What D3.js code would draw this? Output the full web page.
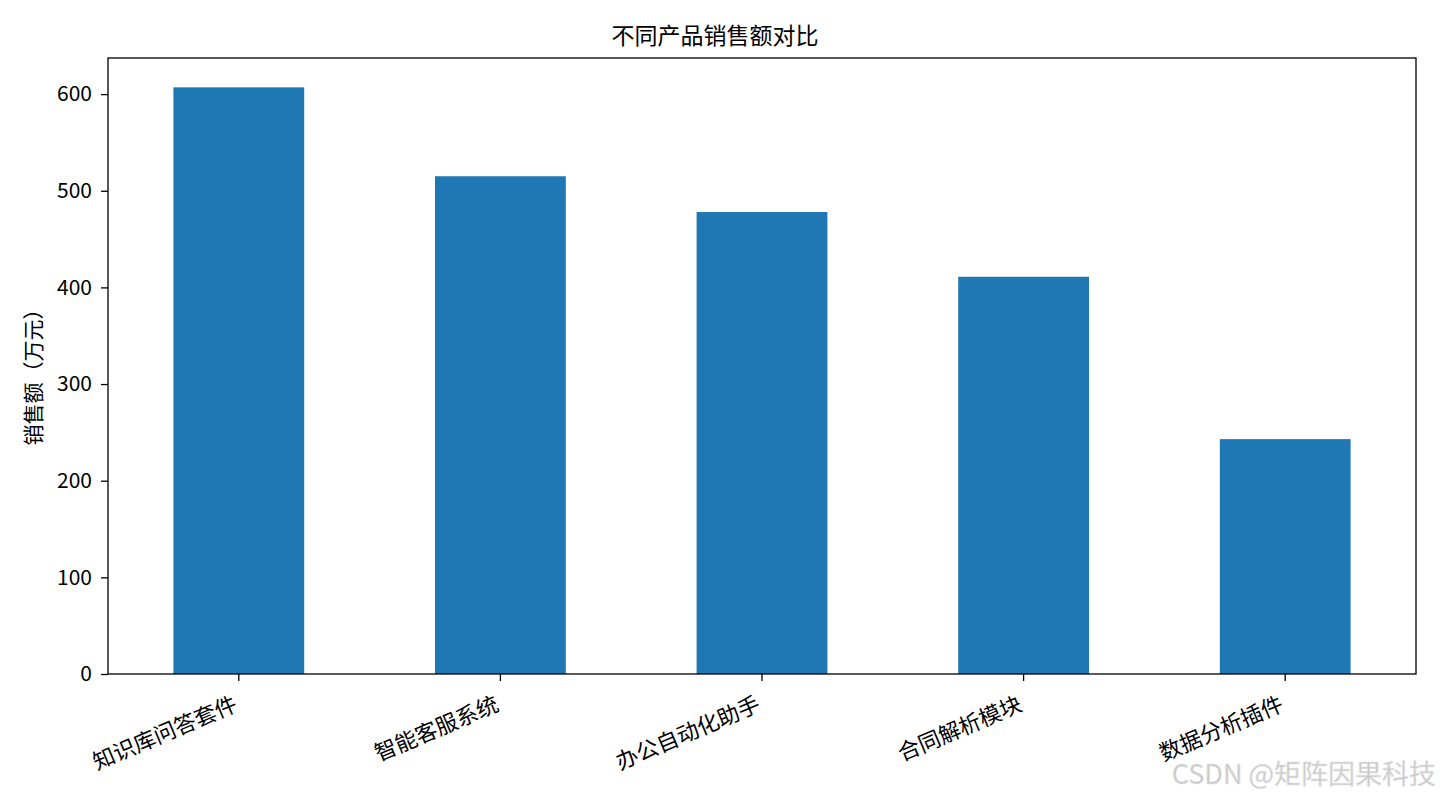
<!DOCTYPE html>
<html>
<head>
<meta charset="utf-8">
<script src="https://cdn.jsdelivr.net/npm/d3@7"></script>
<style>
	body { margin: 0; background: #fff; }
	text { font-family: "Noto Sans CJK SC", "DejaVu Sans", sans-serif; fill: #000; }
</style>
</head>
<body>
<svg id="chart" width="1440" height="800"></svg>
<script>
var products = ["知识库问答套件", "智能客服系统", "办公自动化助手", "合同解析模块", "数据分析插件"],
	sales = [607, 515, 478, 411, 243],
	yTicks = [0, 100, 200, 300, 400, 500, 600];

var svg = d3.select("#chart"),
	plotL = 108, plotR = 1416, plotT = 58, plotB = 674;

var x = d3.scaleBand()
	.domain(products)
	.range([plotL, plotR])
	.paddingInner(0.5)
	.paddingOuter(0.25);

var y = d3.scaleLinear()
	.domain([0, d3.max(sales) * 1.05])
	.range([plotB, plotT]);

// bars
svg.append("g").selectAll("rect")
	.data(products)
	.enter()
	.append("rect")
	.attr("x", function(d) { return x(d); })
	.attr("y", function(d, i) { return y(sales[i]); })
	.attr("width", x.bandwidth())
	.attr("height", function(d, i) { return plotB - y(sales[i]); })
	.attr("fill", "#1f77b4");

// y axis
var yAxis = svg.append("g")
	.attr("transform", "translate(" + plotL + ",0)")
	.call(d3.axisLeft(y).tickValues(yTicks).tickSize(7).tickPadding(9));
yAxis.selectAll("text").style("font-size", "21px");

// x axis
var xAxis = svg.append("g")
	.attr("transform", "translate(0," + plotB + ")")
	.call(d3.axisBottom(x).tickSize(7).tickPadding(8));
xAxis.selectAll("text")
	.style("font-size", "22px")
	.attr("text-anchor", "end")
	.attr("dy", "0.7em")
	.attr("transform", "translate(-12,8) rotate(-23)");

svg.selectAll(".domain").remove();
svg.selectAll(".tick line").attr("stroke", "#000").attr("stroke-width", 1.3);

// frame
svg.append("rect")
	.attr("x", plotL)
	.attr("y", plotT)
	.attr("width", plotR - plotL)
	.attr("height", plotB - plotT)
	.attr("fill", "none")
	.attr("stroke", "#000")
	.attr("stroke-width", 1.3);

// title and label
svg.append("text")
	.attr("x", 715)
	.attr("y", 44)
	.attr("text-anchor", "middle")
	.style("font-size", "23px")
	.text("不同产品销售额对比");

svg.append("text")
	.attr("transform", "translate(41," + ((plotT + plotB) / 2 + 6) + ") rotate(-90)")
	.attr("text-anchor", "middle")
	.style("font-size", "21px")
	.text("销售额（万元）");

// watermark
svg.append("text")
	.attr("x", 1436)
	.attr("y", 784)
	.attr("text-anchor", "end")
	.style("font-size", "27px")
	.style("fill", "#c8c8c8")
	.style("stroke", "#e6e6e6")
	.style("stroke-width", 0.6)
	.text("CSDN @矩阵因果科技");
</script>
</body>
</html>
